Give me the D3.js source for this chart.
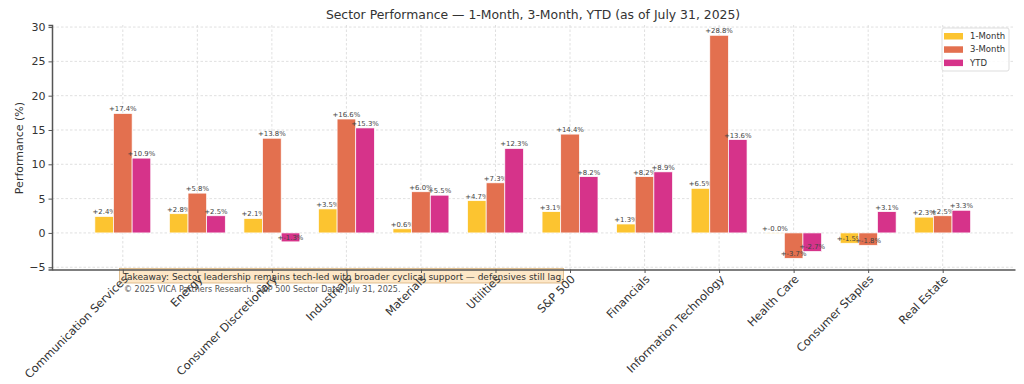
<!DOCTYPE html>
<html>
<head>
<meta charset="utf-8">
<script src="https://cdn.jsdelivr.net/npm/d3@7"></script>
<style>
  body { margin: 0; background: #fff; }
  text { font-family: "DejaVu Sans", sans-serif; }
</style>
</head>
<body>
<div id="chart"></div>
<script>
// data
var sectors = ['Communication Services','Energy','Consumer Discretionary','Industrials','Materials',
  'Utilities','S&P 500','Financials','Information Technology','Health Care','Consumer Staples','Real Estate'];
var oneMonth   = [2.4, 2.8, 2.1, 3.5, 0.6, 4.7, 3.1, 1.3, 6.5, -0.04, -1.5, 2.3];
var threeMonth = [17.4, 5.8, 13.8, 16.6, 6.0, 7.3, 14.4, 8.2, 28.8, -3.7, -1.8, 2.5];
var ytd        = [10.9, 2.5, -1.3, 15.3, 5.5, 12.3, 8.2, 8.9, 13.6, -2.7, 3.1, 3.3];
var seriesNames = ['1-Month','3-Month','YTD'];
var colors = ['#fcc430','#e3704f','#d6338a'];
var yTicks = [-5, 0, 5, 10, 15, 20, 25, 30];

var W = 1024, H = 384;
var svg = d3.select('#chart').append('svg').attr('width', W).attr('height', H);

var x = d3.scaleLinear().domain([-0.95, 11.97]).range([52, 1015]);
var y = d3.scaleLinear().domain([-5.33, 30.3]).range([269.5, 25]);
var bw = 0.25;

// grid
var grid = svg.append('g');
grid.selectAll('line.h').data(yTicks).enter().append('line')
  .attr('x1', x.range()[0]).attr('x2', x.range()[1])
  .attr('y1', d => y(d)).attr('y2', d => y(d))
  .attr('stroke', '#d8d8d8').attr('stroke-width', 0.8).attr('stroke-dasharray', '2.5,2');
grid.selectAll('line.v').data(sectors).enter().append('line')
  .attr('x1', (d,i) => x(i)).attr('x2', (d,i) => x(i))
  .attr('y1', y.range()[1]).attr('y2', y.range()[0])
  .attr('stroke', '#d8d8d8').attr('stroke-width', 0.8).attr('stroke-dasharray', '2.5,2');

// bars
var series = [oneMonth, threeMonth, ytd];
series.forEach(function(vals, s) {
  var g = svg.append('g');
  g.selectAll('rect').data(vals).enter().append('rect')
    .attr('x', (d,i) => x(i + (s-1)*bw - bw/2))
    .attr('width', x(bw) - x(0))
    .attr('y', d => y(Math.max(d, 0)))
    .attr('height', d => Math.abs(y(d) - y(0)))
    .attr('fill', colors[s]).attr('stroke', '#fff').attr('stroke-width', 0.7);
  g.selectAll('text').data(vals).enter().append('text')
    .attr('x', (d,i) => x(i + (s-1)*bw))
    .attr('y', d => y(d + 0.3))
    .attr('text-anchor', 'middle')
    .attr('font-size', 6.9).attr('fill', '#444')
    .text(d => '+' + (d < 0 ? '-' + Math.abs(d).toFixed(1) : d.toFixed(1)) + '%');
});

// annotation (under the tick labels)
var note = svg.append('g');
note.append('rect').attr('x', 119.5).attr('y', 268.5).attr('width', 444).attr('height', 14.5)
  .attr('fill', '#fde3bd').attr('fill-opacity', 0.85).attr('stroke', '#d9b27a').attr('stroke-width', 0.8);
note.append('text').attr('x', 123).attr('y', 279.5).attr('font-size', 9).attr('fill', '#333')
  .text('Takeaway: Sector leadership remains tech-led with broader cyclical support \u2014 defensives still lag.');
note.append('text').attr('x', 124).attr('y', 292).attr('font-size', 8).attr('fill', '#555')
  .text('\u00a9 2025 VICA Partners Research. S&P 500 Sector Data, July 31, 2025.');

// axes
var yAxis = d3.axisLeft(y).tickValues(yTicks).tickSize(3.5).tickPadding(3)
  .tickFormat(d => d < 0 ? '\u2212' + Math.abs(d) : d);
var gy = svg.append('g').attr('transform', 'translate(' + x.range()[0] + ',0)').call(yAxis);
gy.select('.domain').attr('stroke', '#555').attr('stroke-width', 1.5);
gy.selectAll('.tick line').attr('stroke', '#555');
gy.selectAll('.tick text').attr('font-size', 11).attr('fill', '#333').attr('font-family', 'DejaVu Sans');

var xAxis = d3.axisBottom(x).tickValues(d3.range(sectors.length)).tickSize(3.5).tickSizeOuter(0)
  .tickFormat(i => sectors[i]);
var gx = svg.append('g').attr('transform', 'translate(0,' + y.range()[0] + ')').call(xAxis);
gx.select('.domain').attr('stroke', '#555').attr('stroke-width', 1.5);
gx.selectAll('.tick line').attr('stroke', '#555');
gx.selectAll('.tick text').attr('font-size', 11.3).attr('fill', '#333').attr('font-family', 'DejaVu Sans')
  .attr('text-anchor', 'end').attr('dy', '0.35em')
  .attr('transform', 'translate(-2,3) rotate(-45)');

// y label
svg.append('text').attr('transform', 'translate(23,148) rotate(-90)')
  .attr('text-anchor', 'middle').attr('font-size', 11).attr('fill', '#333')
  .text('Performance (%)');

// title
svg.append('text').attr('x', 533).attr('y', 19).attr('text-anchor', 'middle')
  .attr('font-size', 12.4).attr('fill', '#333')
  .text('Sector Performance \u2014 1-Month, 3-Month, YTD (as of July 31, 2025)');

// legend
var lg = svg.append('g').attr('transform', 'translate(942,28)');
lg.append('rect').attr('width', 67).attr('height', 43).attr('rx', 2)
  .attr('fill', '#fff').attr('fill-opacity', 0.85).attr('stroke', '#ddd');
seriesNames.forEach(function(n, i) {
  lg.append('rect').attr('x', 2).attr('y', 5 + i*13.3).attr('width', 19).attr('height', 6.5)
    .attr('fill', colors[i]);
  lg.append('text').attr('x', 28).attr('y', 11 + i*13.3).attr('font-size', 8.5).attr('fill', '#333')
    .text(n);
});
</script>
</body>
</html>
